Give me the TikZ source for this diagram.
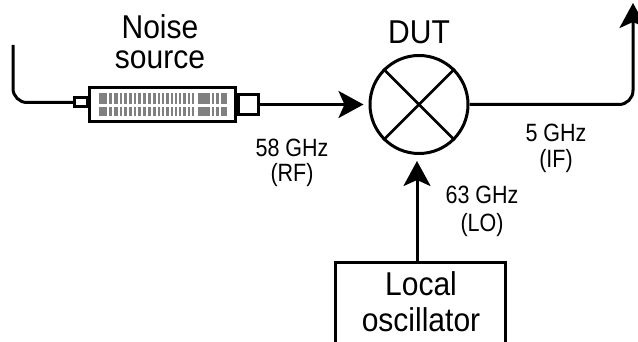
\documentclass[tikz,border=0pt]{standalone}
\usepackage{fontspec}
\setmainfont[FakeStretch=0.86]{Liberation Sans}
\newfontfamily\bigfont[FakeStretch=0.91]{Liberation Sans}
\usetikzlibrary{arrows.meta,shapes.misc}
\definecolor{bargray}{gray}{0.5}
\tikzset{
  wire/.style={line width=3pt,line join=round},
  arrowed/.style={wire,-{Stealth[length=25pt,width=27pt,inset=6pt]}},
  outline/.style={draw,line width=3pt,fill=white,inner sep=0pt,minimum width=#1},
  big/.style={font=\bigfont\fontsize{33}{33}\selectfont,inner sep=0pt,anchor=center},
  small/.style={font=\fontsize{25}{25}\selectfont,inner sep=0pt,anchor=center}
}
\begin{document}
\begin{tikzpicture}[x=1pt,y=-1pt]
\useasboundingbox (0,0) rectangle (638,342);
\clip (0,0) rectangle (638,342);
% connectors' free ends
\coordinate (start) at (13,45);
\coordinate (up) at (633,3);
% local oscillator box (open at the bottom)
\node[draw,line width=3pt,fill=white,minimum width=170pt,minimum height=90pt,inner sep=0pt] (lo) at (420,308) {};
% noise source
\node[outline=146pt,minimum height=34pt] (body) at (162,104.5) {};
\node[outline=20pt,minimum height=20pt,anchor=west] (rconn) at (body.east) {};
\node[outline=13pt,minimum height=9pt,anchor=east] (lconn) at (89,102.5) {};
% mixer
\node[draw,circle,line width=3pt,minimum size=98pt,inner sep=0pt] (dut) at (419,104.5) {};
\draw[line width=2.6pt] (dut.45) -- (dut.225) (dut.135) -- (dut.315);
% bars
\foreach \yy/\hh in {93/11,107/9}{
  \fill[bargray] (99,\yy) rectangle ++(128,\hh);
  \foreach \g in {107,112,118,122,127,132,136,141,146,151,156,160,164,169,173,177,181,186,190,194,196,210,214,219}{
    \fill[white] (\g,\yy) rectangle ++(1.6,\hh);
  }
}
% connectors
\draw[wire,rounded corners=14pt] (start) |- (lconn.west);
\draw[arrowed,shorten >=5pt] (rconn.east) -- (dut.west);
\draw[arrowed,rounded corners=14pt] (dut.east) -| (up);
\coordinate (lotop) at (417,263);
\coordinate (lotip) at (417,161);
\draw[arrowed] (lotop) -- (lotip);
% labels
\node[big] (t1) at (160,27) {Noise};
\node[big] (t2) at (160,60) {source};
\node[big] (t3) at (419,32) {DUT};
\node[big] (t4) at (421,284) {Local};
\node[big] (t5) at (421,320) {oscillator};
\node[small] (r1) at (292,148) {58 GHz};
\node[small] (r2) at (292,175) {(RF)};
\node[small] (i1) at (556,133) {5 GHz};
\node[small] (i2) at (556,161) {(IF)};
\node[small] (o1) at (482,195) {63 GHz};
\node[small] (o2) at (482,225) {(LO)};
\end{tikzpicture}
\end{document}
